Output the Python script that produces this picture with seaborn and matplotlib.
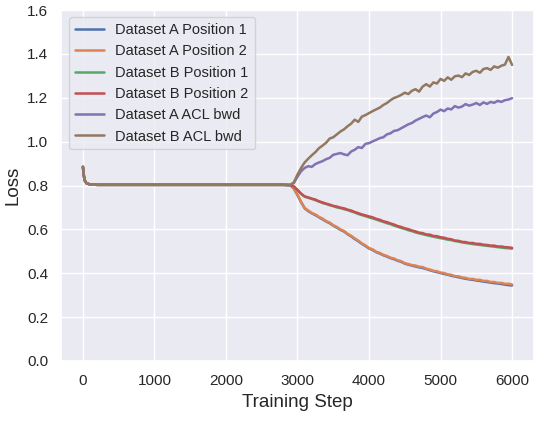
import matplotlib
matplotlib.use("Agg")
import matplotlib.pyplot as plt
import seaborn as sns
import pandas as pd

# ---- data ----
warmup_steps = [0, 10, 25, 50, 100, 200, 1000, 2000, 2800, 2900]
warmup_loss = [0.885, 0.850, 0.823, 0.810, 0.805, 0.803, 0.803, 0.803, 0.803, 0.802]

late_steps = list(range(2950, 6001, 50))

a_pos1 = [0.785, 0.756, 0.724, 0.696, 0.683, 0.673, 0.665, 0.655, 0.646, 0.636,
          0.628, 0.617, 0.608, 0.598, 0.590, 0.578, 0.568, 0.556, 0.546, 0.534,
          0.524, 0.513, 0.506, 0.496, 0.490, 0.482, 0.476, 0.469, 0.464, 0.457,
          0.452, 0.444, 0.439, 0.435, 0.431, 0.427, 0.424, 0.419, 0.414, 0.409,
          0.405, 0.401, 0.397, 0.393, 0.389, 0.385, 0.382, 0.378, 0.375, 0.372,
          0.370, 0.367, 0.365, 0.362, 0.360, 0.357, 0.355, 0.353, 0.351, 0.348,
          0.346, 0.344]
a_pos2 = [0.785, 0.758, 0.726, 0.698, 0.686, 0.675, 0.668, 0.657, 0.649, 0.638,
          0.631, 0.619, 0.611, 0.600, 0.593, 0.580, 0.571, 0.559, 0.549, 0.536,
          0.527, 0.515, 0.509, 0.498, 0.493, 0.484, 0.479, 0.471, 0.467, 0.459,
          0.455, 0.446, 0.442, 0.437, 0.435, 0.430, 0.428, 0.421, 0.417, 0.411,
          0.409, 0.403, 0.401, 0.395, 0.393, 0.387, 0.386, 0.381, 0.379, 0.374,
          0.374, 0.370, 0.370, 0.365, 0.365, 0.360, 0.360, 0.356, 0.356, 0.352,
          0.352, 0.349]
b_pos1 = [0.795, 0.779, 0.762, 0.749, 0.744, 0.739, 0.733, 0.727, 0.720, 0.716,
          0.710, 0.706, 0.700, 0.697, 0.692, 0.688, 0.682, 0.677, 0.670, 0.665,
          0.660, 0.655, 0.650, 0.645, 0.639, 0.634, 0.628, 0.624, 0.617, 0.612,
          0.606, 0.602, 0.596, 0.592, 0.586, 0.582, 0.578, 0.574, 0.570, 0.567,
          0.563, 0.560, 0.557, 0.553, 0.551, 0.547, 0.544, 0.541, 0.538, 0.536,
          0.533, 0.531, 0.529, 0.527, 0.525, 0.523, 0.521, 0.519, 0.517, 0.515,
          0.514, 0.512]
b_pos2 = [0.795, 0.780, 0.763, 0.750, 0.746, 0.740, 0.736, 0.728, 0.723, 0.717,
          0.713, 0.707, 0.704, 0.699, 0.696, 0.690, 0.686, 0.679, 0.674, 0.668,
          0.664, 0.659, 0.655, 0.648, 0.644, 0.637, 0.633, 0.627, 0.622, 0.615,
          0.611, 0.605, 0.601, 0.595, 0.591, 0.585, 0.583, 0.577, 0.576, 0.570,
          0.569, 0.564, 0.562, 0.557, 0.555, 0.549, 0.548, 0.543, 0.542, 0.538,
          0.538, 0.534, 0.534, 0.530, 0.529, 0.526, 0.526, 0.522, 0.522, 0.519,
          0.518, 0.516]
a_acl = [0.812, 0.840, 0.865, 0.880, 0.888, 0.885, 0.898, 0.905, 0.911, 0.920,
         0.926, 0.940, 0.944, 0.948, 0.942, 0.938, 0.955, 0.963, 0.975, 0.971,
         0.990, 0.993, 1.001, 1.008, 1.016, 1.020, 1.033, 1.038, 1.049, 1.052,
         1.061, 1.070, 1.079, 1.085, 1.096, 1.104, 1.112, 1.119, 1.111, 1.128,
         1.135, 1.146, 1.139, 1.151, 1.147, 1.162, 1.155, 1.160, 1.171, 1.164,
         1.169, 1.176, 1.167, 1.179, 1.172, 1.181, 1.177, 1.186, 1.181, 1.189,
         1.192, 1.198]
b_acl = [0.815, 0.850, 0.880, 0.905, 0.922, 0.938, 0.952, 0.970, 0.982, 0.995,
         1.014, 1.020, 1.033, 1.046, 1.056, 1.070, 1.082, 1.100, 1.090, 1.114,
         1.121, 1.130, 1.139, 1.147, 1.155, 1.167, 1.176, 1.189, 1.199, 1.205,
         1.213, 1.223, 1.217, 1.232, 1.239, 1.228, 1.251, 1.262, 1.251, 1.270,
         1.265, 1.286, 1.277, 1.293, 1.282, 1.298, 1.301, 1.294, 1.311, 1.304,
         1.318, 1.323, 1.314, 1.331, 1.335, 1.327, 1.343, 1.337, 1.346, 1.351,
         1.386, 1.350]

labels = ["Dataset A Position 1", "Dataset A Position 2", "Dataset B Position 1",
          "Dataset B Position 2", "Dataset A ACL bwd", "Dataset B ACL bwd"]
series = [a_pos1, a_pos2, b_pos1, b_pos2, a_acl, b_acl]

# ---- plot ----
sns.set_theme(style="darkgrid")
plt.rcParams["font.family"] = ["Liberation Sans", "DejaVu Sans"]

fig = plt.figure(figsize=(5.37, 4.30), dpi=100)
ax = fig.add_axes([0.1145, 0.1605, 0.879, 0.8162])

palette = sns.color_palette("deep")
steps_all = warmup_steps + late_steps
for i, (lab, vals) in enumerate(zip(labels, series)):
    df = pd.DataFrame({"step": steps_all, "loss": warmup_loss + vals})
    sns.lineplot(data=df, x="step", y="loss", ax=ax, label=lab,
                 color=palette[i], linewidth=1.8)

ax.set_ylim(0, 1.6)
ax.set_yticks([0.0, 0.2, 0.4, 0.6, 0.8, 1.0, 1.2, 1.4, 1.6])
ax.set_xticks([0, 1000, 2000, 3000, 4000, 5000, 6000])
ax.tick_params(labelsize=11)
ax.set_xlabel("Training Step", fontsize=13.5)
ax.set_ylabel("Loss", fontsize=13.5)
ax.legend(loc="upper left", fontsize=10.5)

fig.savefig("out.png", dpi=100)
